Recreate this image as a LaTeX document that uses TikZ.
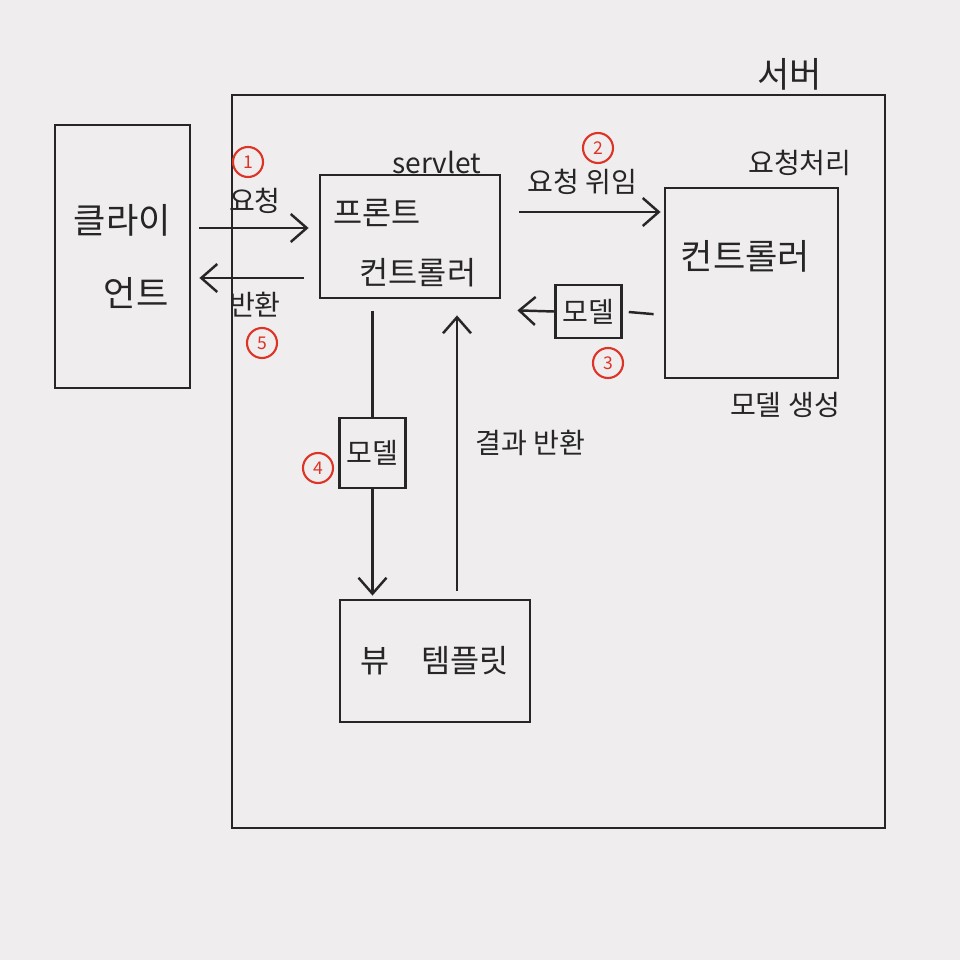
\documentclass[tikz,border=0pt]{standalone}
\usepackage{fontspec}
\setmainfont{Noto Sans CJK KR}
\usetikzlibrary{positioning,arrows.meta,calc}
\definecolor{paper}{RGB}{239,237,238}
\definecolor{pen}{RGB}{38,38,38}
\definecolor{mark}{RGB}{222,52,40}

\begin{document}
\begin{tikzpicture}[font=\small,>={Straight Barb[length=1.6mm,width=2.8mm]},
  blk/.style={draw=pen,line width=0.8pt,inner sep=2pt,align=center},
  lbl/.style={font=\footnotesize,text=pen},
  num/.style={circle,draw=mark,text=mark,line width=0.6pt,minimum size=3mm,
    inner sep=0pt,font=\tiny}]
  \fill[paper] (0,0) rectangle (9.6,9.6);
  \useasboundingbox (0,0) rectangle (9.6,9.6);
  % ---- server ----
  \node[blk,minimum width=65.3mm,minimum height=73.3mm] (srv) at (5.585,4.985) {};
  \node[font=\normalsize,text=pen] (srvl) at (7.9,8.86) {서버};
  % ---- client ----
  \node[blk,minimum width=13.5mm,minimum height=26.3mm,font=\normalsize,text=pen,
        align=left] (cli) at (1.225,7.035) {클라이\\[3mm]\hspace*{3mm}언트};
  % ---- front controller ----
  \node[blk,minimum width=18mm,minimum height=12.3mm] (front) at (4.10,7.235) {};
  \node[lbl] (servl) at (4.37,7.98) {servlet};
  \node[anchor=west,text=pen] (frontA) at ($(front.west)+(0.2mm,2.4mm)$) {프론트};
  \node[text=pen] (frontB) at ($(front.center)+(0.8mm,-3.6mm)$) {컨트롤러};
  % ---- controller ----
  \node[blk,minimum width=17.3mm,minimum height=19mm] (ctrl) at (7.515,6.77) {};
  \node[text=pen,font=\normalsize] (ctrlt) at ($(ctrl.north)+(-0.6mm,-7mm)$) {컨트롤러};
  \node[lbl] (proc) at (8.0,7.97) {요청처리};
  \node[lbl] (mk) at (7.85,5.55) {모델 생성};
  % ---- view ----
  \node[blk,minimum width=19mm,minimum height=12.2mm,text=pen] (view) at (4.35,2.99)
     {뷰\quad 템플릿};
  % ---- model boxes ----
  \node[blk,minimum width=6.3mm,minimum height=5.3mm,font=\footnotesize,text=pen]
     (m3) at (5.885,6.485) {모델};
  \node[blk,minimum width=5.1mm,minimum height=7mm,font=\footnotesize,text=pen]
     (m4) at (3.725,5.07) {모델};
  \coordinate (upx) at (4.57,0);
  % ---- arrows ----
  \draw[->,pen,line width=0.7pt,shorten <=0.8mm,shorten >=1mm]
     ([yshift=2.85mm]cli.east) -- node[lbl,above=0.1mm] (req) {요청}
     ([yshift=2.85mm]cli.east -| front.west);
  \draw[->,pen,line width=0.7pt,shorten <=1.5mm,shorten >=0.8mm]
     ([yshift=-2.15mm]cli.east -| front.west) -- node[lbl,below=0.1mm] (ret) {반환}
     ([yshift=-2.15mm]cli.east);
  \draw[->,pen,line width=0.7pt,shorten <=1.8mm,shorten >=0.3mm]
     ([yshift=2.45mm]front.east) -- node[lbl,above=0.4mm] (dlg) {요청 위임}
     ([yshift=2.45mm]front.east -| ctrl.west);
  \draw[pen,line width=0.7pt,shorten <=1mm,shorten >=0.6mm]
     ([yshift=-3.2mm]ctrl.west) -- (m3.east);
  \draw[->,pen,line width=0.7pt] (m3.west) -- ([xshift=1.6mm,yshift=-1.1mm]front.south east);
  \draw[pen,line width=0.7pt,shorten <=1.2mm] (front.south -| m4) -- (m4.north);
  \draw[->,pen,line width=0.7pt,shorten >=0.3mm] (m4.south) -- (view.north -| m4);
  \draw[->,pen,line width=0.7pt,shorten <=0.8mm,shorten >=1.6mm]
     (view.north -| upx) -- node[lbl,right=0.6mm,pos=0.52] (res) {결과 반환}
     (front.south -| upx);
  % ---- steps ----
  \node[num] (n1) at (2.48,7.98) {1};
  \node[num] (n2) at (5.98,8.12) {2};
  \node[num] (n3) at (6.08,5.97) {3};
  \node[num] (n4) at (3.18,4.92) {4};
  \node[num] (n5) at (2.62,6.17) {5};
\end{tikzpicture}
\end{document}
